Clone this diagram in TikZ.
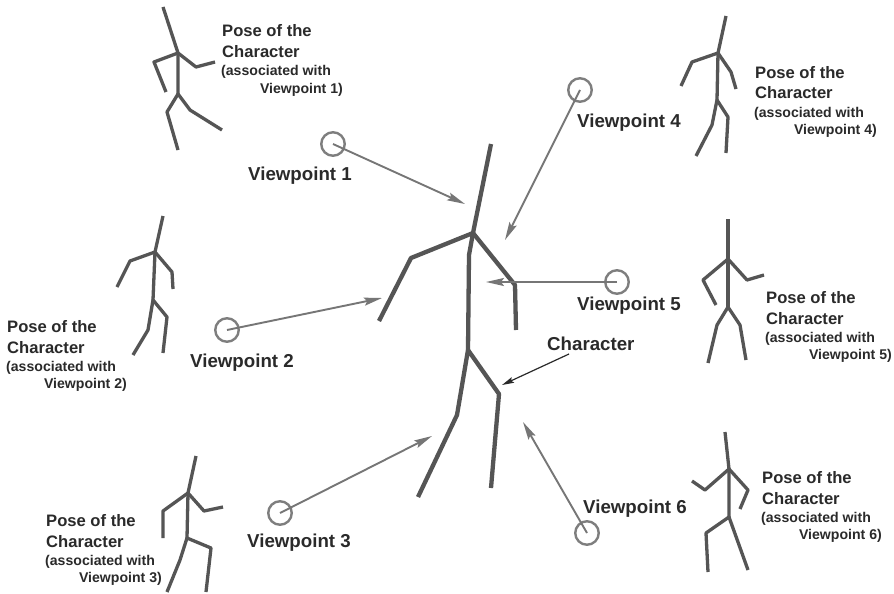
\documentclass[tikz,border=0pt]{standalone}
\usepackage{fontspec}
\setmainfont{Liberation Sans}
\usetikzlibrary{arrows.meta}

\definecolor{figgray}{HTML}{555555}
\definecolor{arrowgray}{HTML}{767676}
\definecolor{ringgray}{HTML}{7E7E7E}
\definecolor{textgray}{HTML}{2A2A2A}

% one caption beside a small pose figure
\newcommand\poselbl[5]{%
  \node[posebig, anchor=base west] (#1a) at (#2,#3) {Pose of the};
  \node[posebig, anchor=base west] (#1b) at (#2,#3+21) {Character};
  \node[posesmall, anchor=base west] (#1c) at (#2-1,#3+39) {(associated with};
  \node[posesmall, anchor=base east] (#1d) at (#4,#3+56) {Viewpoint #5)};
}

\begin{document}
\begin{tikzpicture}[x=1pt,y=-1pt,
  bigfig/.style={draw=figgray, line width=4.3pt, line join=round},
  smallfig/.style={draw=figgray, line width=3.3pt, line join=round},
  ring/.style={circle, draw=ringgray, line width=2.4pt, minimum size=23.5pt, inner sep=0pt},
  viewray/.style={draw=arrowgray, line width=1.9pt,
    -{Stealth[length=18pt,width=8pt,inset=3pt]}},
  pointer/.style={draw=textgray, line width=1.2pt,
    -{Stealth[length=12pt,width=6pt,inset=2pt]}},
  vplabel/.style={inner sep=0pt, text=textgray,
    font=\fontsize{18.7}{22}\selectfont\bfseries},
  posebig/.style={inner sep=0pt, text=textgray,
    font=\fontsize{16.6}{20}\selectfont\bfseries},
  posesmall/.style={inner sep=0pt, text=textgray,
    font=\fontsize{14.1}{17}\selectfont\bfseries}]

\useasboundingbox[fill=white] (0,0) rectangle (894,594);

% ---- central character ----
\draw[bigfig] (491,144) -- (473,233) -- (469,255) -- (468,350);
\draw[bigfig] (379,321) -- (411,258) -- (473,233) -- (515,285) -- (516,330);
\draw[bigfig] (418,497) -- (457,415) -- (468,350) -- (499,394) -- (491,488);

% ---- pose 1 (top left) ----
\draw[smallfig] (163,7) -- (178,53) -- (178,94);
\draw[smallfig] (166,92) -- (154,62) -- (178,53) -- (196,67) -- (215,62);
\draw[smallfig] (178,150) -- (167,112) -- (178,94) -- (190,110) -- (222,130);

% ---- pose 4 (top right) ----
\draw[smallfig] (726,16) -- (718,53) -- (717,100);
\draw[smallfig] (681,86) -- (692,62) -- (718,53) -- (731,72) -- (736,89);
\draw[smallfig] (696,156) -- (712,125) -- (717,100) -- (728,117) -- (726,153);

% ---- pose 2 (middle left) ----
\draw[smallfig] (163,216) -- (155,252) -- (153,300);
\draw[smallfig] (117,287) -- (130,261) -- (155,252) -- (172,272) -- (173,289);
\draw[smallfig] (133,355) -- (148,330) -- (153,300) -- (167,317) -- (163,353);

% ---- pose 5 (middle right) ----
\draw[smallfig] (728,219) -- (728,259) -- (728,307);
\draw[smallfig] (716,305) -- (703,280) -- (728,259) -- (747,280) -- (764,275);
\draw[smallfig] (708,363) -- (717,325) -- (728,307) -- (740,325) -- (746,360);

% ---- pose 3 (bottom left) ----
\draw[smallfig] (196,456) -- (188,493) -- (187,538);
\draw[smallfig] (163,538) -- (163,511) -- (188,493) -- (204,511) -- (223,507);
\draw[smallfig] (167,592) -- (180,560) -- (187,538) -- (211,548) -- (206,592);

% ---- pose 6 (bottom right) ----
\draw[smallfig] (725,432) -- (729,469) -- (729,517);
\draw[smallfig] (692,481) -- (705,490) -- (729,469) -- (748,490) -- (740,509);
\draw[smallfig] (708,572) -- (706,533) -- (729,517) -- (748,570);

% ---- viewpoints ----
\node[ring] (vp1) at (333,144) {};
\node[ring] (vp2) at (227,330) {};
\node[ring] (vp3) at (280,513) {};
\node[ring] (vp4) at (580,90) {};
\node[ring] (vp5) at (617,282) {};
\node[ring] (vp6) at (587,533) {};

\coordinate (t1) at (465,204);
\coordinate (t2) at (382,298);
\coordinate (t3) at (432,436);
\coordinate (t4) at (505,240);
\coordinate (t5) at (486,282);
\coordinate (t6) at (523,422);

\draw[viewray] (vp1.center) -- (t1);
\draw[viewray] (vp2.center) -- (t2);
\draw[viewray] (vp3.center) -- (t3);
\draw[viewray] (vp4.center) -- (t4);
\draw[viewray] (vp5.center) -- (t5);
\draw[viewray] (vp6.center) -- (t6);

\node[vplabel, anchor=base west] (l1) at (248,180) {Viewpoint 1};
\node[vplabel, anchor=base west] (l2) at (190,367) {Viewpoint 2};
\node[vplabel, anchor=base west] (l3) at (247,547) {Viewpoint 3};
\node[vplabel, anchor=base west] (l4) at (577,127) {Viewpoint 4};
\node[vplabel, anchor=base west] (l5) at (577,310) {Viewpoint 5};
\node[vplabel, anchor=base west] (l6) at (583,513) {Viewpoint 6};

% ---- character label ----
\node[vplabel, anchor=base west] (chr) at (547,350) {Character};
\coordinate (chrtip) at (502,385);
\draw[pointer] (569,354) -- (chrtip);

% ---- pose captions ----
\poselbl{pa}{222}{37}{343}{1}
\poselbl{pd}{755}{78}{877}{4}
\poselbl{pb}{7}{332}{127}{2}
\poselbl{pe}{766}{303}{892}{5}
\poselbl{pc}{46}{526}{162}{3}
\poselbl{pf}{762}{483}{882}{6}

\end{tikzpicture}
\end{document}
